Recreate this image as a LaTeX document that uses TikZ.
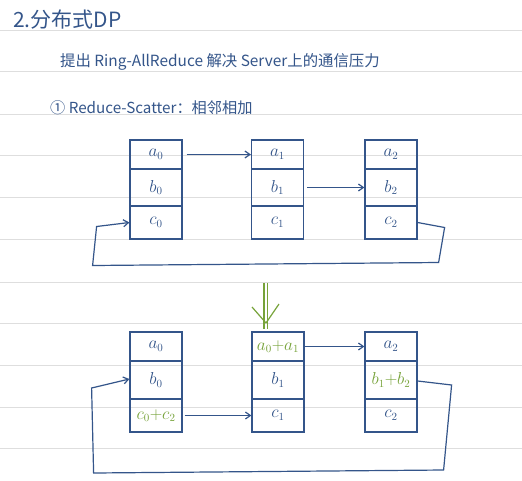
\documentclass[tikz,border=0pt]{standalone}
\usepackage{fontspec}
\setmainfont{Noto Sans CJK SC}
\usetikzlibrary{arrows.meta}
\definecolor{ink}{HTML}{34558A}
\definecolor{grn}{HTML}{77A33A}
\definecolor{rule}{HTML}{DEDEDE}
\begin{document}
\begin{tikzpicture}[x=1pt,y=-1pt,
  cell/.style={draw=ink,line width=1.2pt,minimum width=52pt,inner sep=0pt,text=ink,font=\fontsize{16}{16}\selectfont},
  hA/.style={minimum height=29pt},
  hB/.style={minimum height=37pt},
  hC/.style={minimum height=33pt},
  link/.style={draw=ink,line width=1.2pt,-{Straight Barb[length=5pt,width=7pt]}},
  txt/.style={text=ink,anchor=west,inner sep=0pt}]
\fill[white] (0,0) rectangle (522,480);
\useasboundingbox (0,0) rectangle (522,480);
\foreach \y in {30,71,114,155,197,239,282,323,365,407,448}
  \draw[rule,line width=1pt] (0,\y) -- (522,\y);
% texts
\node[txt,font=\fontsize{21}{21}\selectfont] (title) at (13,20) {2.分布式DP};
\node[txt,font=\fontsize{15.4}{15.4}\selectfont] (intro) at (60,62) {提出 Ring-AllReduce 解决 Server上的通信压力};
\node[txt,font=\fontsize{15.2}{15.2}\selectfont] (step1) at (50,108) {① Reduce-Scatter：相邻相加};
% top row
\node[cell,hA] (a0) at (156,154.5) {$a_0$};
\node[cell,hB] (b0) at (156,187.5) {$b_0$};
\node[cell,hC] (c0) at (156,222.5) {$c_0$};
\node[cell,hA] (a1) at (277.5,154.5) {$a_1$};
\node[cell,hB] (b1) at (277.5,187.5) {$b_1$};
\node[cell,hC] (c1) at (277.5,222.5) {$c_1$};
\node[cell,hA] (a2) at (391,154.5) {$a_2$};
\node[cell,hB] (b2) at (391,187.5) {$b_2$};
\node[cell,hC] (c2) at (391,222.5) {$c_2$};
\draw[link] ([xshift=4pt]a0.east) -- (a1.west);
\draw[link] ([xshift=3pt]b1.east) -- (b2.west);
\draw[link] (c2.east) -- ++(27,5) -- ++(-6,35) -- ++(-346,3) -- ++(4,-39) -- (c0.west);
% green arrow
\node[inner sep=0pt,minimum size=0pt] (down) at (266,283) {};
\coordinate (tip) at (266,323);
\draw[grn,line width=1.2pt] ([xshift=-2pt]down.center) -- ([xshift=-2pt,yshift=-6pt]tip);
\draw[grn,line width=1.2pt] ([xshift=1.5pt]down.center) -- ([xshift=1.5pt,yshift=-6pt]tip);
\draw[grn,line width=1.2pt,line join=round] (252,307) -- (tip) -- (279,304);
% bottom row
\node[cell,hA] (A0) at (156,346.5) {$a_0$};
\node[cell,minimum height=38pt] (B0) at (156,380) {$b_0$};
\node[cell,hC,text=grn] (C0) at (156,415.5) {$c_0{+}c_2$};
\node[cell,hA,text=grn] (A1) at (278,346.5) {$a_0{+}a_1$};
\node[cell,minimum height=38pt] (B1) at (278,380) {$b_1$};
\node[cell,hC] (C1) at (278,415.5) {$c_1$};
\node[cell,hA] (A2) at (391,346.5) {$a_2$};
\node[cell,minimum height=38pt,text=grn] (B2) at (391,380) {$b_1{+}b_2$};
\node[cell,hC] (C2) at (391,415.5) {$c_2$};
\draw[link] (A1.east) -- (A2.west);
\draw[link] ([xshift=2pt]C0.east) -- (C1.west);
\draw[link] ([yshift=-1pt]B2.east) -- ++(34,4) -- ++(-8,85) -- ++(-350,3) -- ++(-2,-85) -- ([yshift=1pt]B0.west);
\end{tikzpicture}
\end{document}
